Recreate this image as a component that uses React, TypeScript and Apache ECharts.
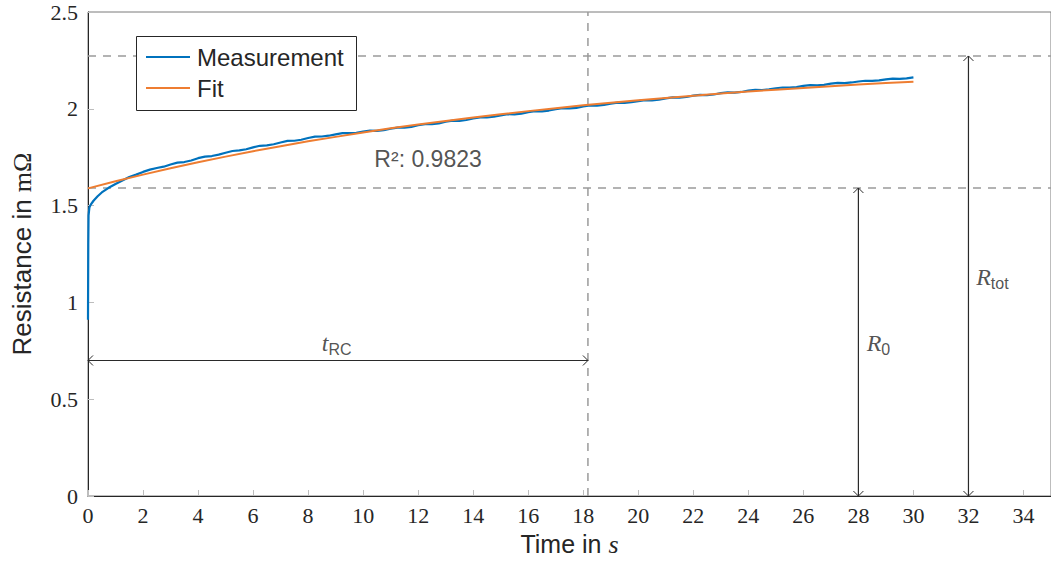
import React, { useEffect, useRef } from "react";
import * as echarts from "echarts";

// ---- data ----
const measT = [0, 0.01, 0.02, 0.05, 0.1, 0.2, 0.35, 0.5, 0.75, 1.0, 1.25, 1.5, 1.75, 2.0, 2.25, 2.5, 2.75, 3.0, 3.25, 3.5, 3.75, 4.0, 4.25, 4.5, 4.75, 5.0, 5.25, 5.5, 5.75, 6.0, 6.25, 6.5, 6.75, 7.0, 7.25, 7.5, 7.75, 8.0, 8.25, 8.5, 8.75, 9.0, 9.25, 9.5, 9.75, 10.0, 10.25, 10.5, 10.75, 11.0, 11.25, 11.5, 11.75, 12.0, 12.25, 12.5, 12.75, 13.0, 13.25, 13.5, 13.75, 14.0, 14.25, 14.5, 14.75, 15.0, 15.25, 15.5, 15.75, 16.0, 16.25, 16.5, 16.75, 17.0, 17.25, 17.5, 17.75, 18.0, 18.25, 18.5, 18.75, 19.0, 19.25, 19.5, 19.75, 20.0, 20.25, 20.5, 20.75, 21.0, 21.25, 21.5, 21.75, 22.0, 22.25, 22.5, 22.75, 23.0, 23.25, 23.5, 23.75, 24.0, 24.25, 24.5, 24.75, 25.0, 25.25, 25.5, 25.75, 26.0, 26.25, 26.5, 26.75, 27.0, 27.25, 27.5, 27.75, 28.0, 28.25, 28.5, 28.75, 29.0, 29.25, 29.5, 29.75, 30.0];
const measR = [0.91, 1.3, 1.45, 1.49, 1.505, 1.525, 1.548, 1.568, 1.592, 1.612, 1.63, 1.648, 1.66, 1.674, 1.686, 1.694, 1.701, 1.712, 1.722, 1.725, 1.733, 1.745, 1.753, 1.756, 1.763, 1.773, 1.782, 1.785, 1.791, 1.801, 1.809, 1.811, 1.817, 1.826, 1.834, 1.835, 1.84, 1.849, 1.856, 1.857, 1.861, 1.868, 1.874, 1.874, 1.876, 1.882, 1.887, 1.886, 1.89, 1.897, 1.903, 1.903, 1.907, 1.915, 1.921, 1.921, 1.925, 1.933, 1.939, 1.938, 1.942, 1.95, 1.956, 1.955, 1.959, 1.966, 1.972, 1.971, 1.975, 1.983, 1.988, 1.987, 1.991, 1.998, 2.003, 2.002, 2.005, 2.012, 2.017, 2.016, 2.02, 2.027, 2.032, 2.031, 2.034, 2.04, 2.045, 2.044, 2.047, 2.054, 2.059, 2.058, 2.061, 2.068, 2.072, 2.071, 2.074, 2.081, 2.085, 2.084, 2.087, 2.094, 2.098, 2.097, 2.1, 2.106, 2.11, 2.109, 2.112, 2.118, 2.122, 2.121, 2.124, 2.13, 2.134, 2.133, 2.136, 2.141, 2.145, 2.144, 2.147, 2.152, 2.156, 2.155, 2.157, 2.162];
const fitT = [0, 1, 2, 3, 4, 5, 6, 7, 8, 9, 10, 11, 12, 13, 14, 15, 16, 17, 18, 19, 20, 21, 22, 23, 24, 25, 26, 27, 28, 29, 30];
const fitR = [1.589, 1.626, 1.66, 1.693, 1.724, 1.753, 1.781, 1.807, 1.832, 1.855, 1.878, 1.899, 1.919, 1.937, 1.955, 1.972, 1.988, 2.003, 2.018, 2.031, 2.044, 2.056, 2.068, 2.079, 2.089, 2.099, 2.108, 2.117, 2.125, 2.133, 2.14];

const R0 = 1.591;
const Rtot = 2.273;
const tRC = 18.17;
const arrowY = 0.7;
const xR0 = 28;
const xRtot = 32;
const rSquared = "0.9823";

const xMin = 0, xMax = 35, xStep = 2;
const yMin = 0, yMax = 2.5, yStep = 0.5;

const BLUE = "#0072BD";
const ORANGE = "#EE7D31";
const TXT = "#262626";
const SANS = "Liberation Sans";
const SERIF = "Liberation Serif";

export default function App() {
  const ref = useRef<HTMLDivElement>(null);
  useEffect(() => {
    const chart = echarts.init(ref.current as HTMLDivElement, null, { renderer: "svg" });
    const meas = measT.map((t, i) => [t, measR[i]]);
    const fit = fitT.map((t, i) => [t, fitR[i]]);
    const dashed = { color: "#9a9a9a", width: 1.5, type: [8, 7] as any };
    const arrows = [
      [0, arrowY, tRC, arrowY],
      [xR0, 0, xR0, R0],
      [xRtot, 0, xRtot, Rtot],
    ];
    const labels = [
      { value: [9.04, 0.79], text: "{i|t}{s|RC}" },
      { value: [28.73, 0.79], text: "{i|R}{s|0}" },
      { value: [32.87, 1.131], text: "{i|R}{s|tot}" },
      { value: [12.36, 1.741], text: "{n|R²: " + rSquared + "}" },
    ];
    const richLbl = {
      i: { fontFamily: SERIF, fontStyle: "italic", fontSize: 24, color: TXT, lineHeight: 28, verticalAlign: "middle" },
      s: { fontFamily: SANS, fontSize: 16, color: TXT, lineHeight: 14, verticalAlign: "bottom" },
      n: { fontFamily: SANS, fontSize: 23, color: TXT },
    };
    chart.setOption({
      animation: false,
      backgroundColor: "#fff",
      grid: { left: 88, top: 12, width: 968.5, height: 484, show: true, borderColor: "#7a7a7a", borderWidth: 1, backgroundColor: "transparent" },
      xAxis: {
        type: "value", min: xMin, max: xMax, interval: xStep,
        axisLine: { show: true, lineStyle: { color: TXT, width: 1 } },
        axisTick: { show: true, inside: true, length: 6, lineStyle: { color: "#bdbdbd", width: 1 } },
        axisLabel: { color: TXT, fontFamily: SERIF, fontSize: 22, margin: 8, showMaxLabel: false },
        splitLine: { show: false },
        name: "{a|Time in }{b|s}",
        nameLocation: "middle", nameGap: 35,
        nameTextStyle: { rich: { a: { fontFamily: SANS, fontSize: 25, color: TXT }, b: { fontFamily: SERIF, fontStyle: "italic", fontSize: 26, color: TXT } } },
      },
      yAxis: {
        type: "value", min: yMin, max: yMax, interval: yStep,
        axisLine: { show: true, lineStyle: { color: TXT, width: 1 } },
        axisTick: { show: true, inside: true, length: 6, lineStyle: { color: "#bdbdbd", width: 1 } },
        axisLabel: { color: TXT, fontFamily: SERIF, fontSize: 22, margin: 10 },
        splitLine: { show: false },
        name: "{a|Resistance in }{b|mΩ}",
        nameLocation: "middle", nameRotate: 90, nameGap: 53,
        nameTextStyle: { rich: { a: { fontFamily: SANS, fontSize: 26, color: TXT }, b: { fontFamily: SERIF, fontSize: 26, color: TXT } } },
      },
      series: [
        { type: "line", data: [[xMin, Rtot], [xMax, Rtot]], symbol: "none", lineStyle: dashed, silent: true, z: 1 },
        { type: "line", data: [[xMin, R0], [xMax, R0]], symbol: "none", lineStyle: dashed, silent: true, z: 1 },
        { type: "line", data: [[tRC, yMin], [tRC, yMax]], symbol: "none", lineStyle: dashed, silent: true, z: 1 },
        { name: "Measurement", type: "line", data: meas, symbol: "none", lineStyle: { color: BLUE, width: 2.2 }, z: 2 },
        { name: "Fit", type: "line", data: fit, symbol: "none", smooth: false, lineStyle: { color: ORANGE, width: 2 }, z: 3 },
        {
          type: "custom", data: arrows, encode: { x: [0, 2], y: [1, 3] }, z: 4, silent: true,
          renderItem: (params: any, api: any) => {
            const p1 = api.coord([api.value(0), api.value(1)]);
            const p2 = api.coord([api.value(2), api.value(3)]);
            const dx = p2[0] - p1[0], dy = p2[1] - p1[1];
            const len = Math.hypot(dx, dy) || 1;
            const ux = dx / len, uy = dy / len;
            const px = -uy, py = ux;
            const d = 5, w = 5;
            const stroke = "#2a2a2a";
            const head = (tip: number[], dir: number) => ({
              type: "polyline",
              shape: { points: [[tip[0] - dir * ux * d + px * w, tip[1] - dir * uy * d + py * w], [tip[0], tip[1]], [tip[0] - dir * ux * d - px * w, tip[1] - dir * uy * d - py * w]] },
              style: { stroke, fill: "none", lineWidth: 1 },
            });
            return {
              type: "group",
              children: [
                { type: "line", shape: { x1: p1[0], y1: p1[1], x2: p2[0], y2: p2[1] }, style: { stroke, lineWidth: 1.2 } },
                head(p2, 1),
                head(p1, -1),
              ],
            };
          },
        },
        {
          type: "scatter", symbolSize: 0, silent: true, z: 5,
          data: labels.map((l) => ({ value: l.value, label: { show: true, position: "inside", formatter: l.text, rich: richLbl } })),
        },
      ],
      graphic: [
        { type: "rect", left: 136, top: 36, z: 100, shape: { width: 220, height: 74 }, style: { fill: "#fff", stroke: TXT, lineWidth: 1 } },
        { type: "line", z: 101, shape: { x1: 146, y1: 57, x2: 190, y2: 57 }, style: { stroke: BLUE, lineWidth: 2.2 } },
        { type: "text", z: 101, x: 197, y: 57, style: { text: "Measurement", fill: TXT, font: `24px "${SANS}"`, verticalAlign: "middle" } },
        { type: "line", z: 101, shape: { x1: 146, y1: 88, x2: 190, y2: 88 }, style: { stroke: ORANGE, lineWidth: 2 } },
        { type: "text", z: 101, x: 197, y: 88, style: { text: "Fit", fill: TXT, font: `24px "${SANS}"`, verticalAlign: "middle" } },
      ],
    });
    return () => chart.dispose();
  }, []);
  return <div ref={ref} style={{ position: "fixed", left: 0, top: 0, width: 1051, height: 567, background: "#fff" }} />;
}
